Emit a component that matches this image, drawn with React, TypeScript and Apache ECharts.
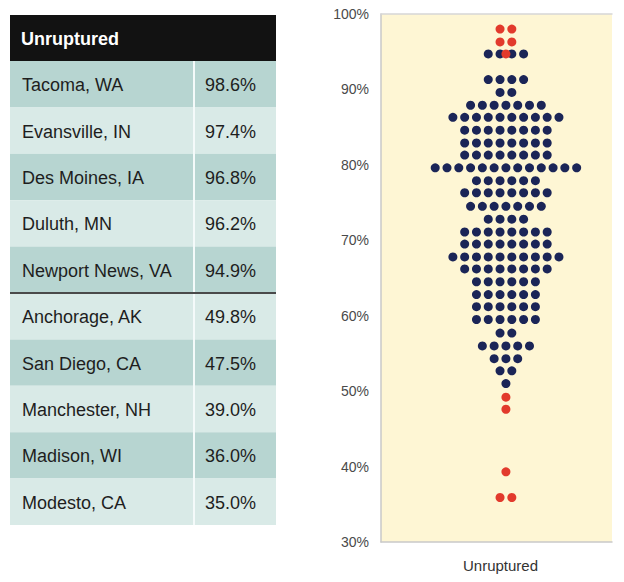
import React, { useEffect, useRef } from "react";
import * as echarts from "echarts";

const cities = [
  "Tacoma, WA",
  "Evansville, IN",
  "Des Moines, IA",
  "Duluth, MN",
  "Newport News, VA",
  "Anchorage, AK",
  "San Diego, CA",
  "Manchester, NH",
  "Madison, WI",
  "Modesto, CA",
];
const cityValues = [98.6, 97.4, 96.8, 96.2, 94.9, 49.8, 47.5, 39.0, 36.0, 35.0];

// rows of the dot plot (bin centres, %) and number of other cities in each row
const binValues = [
  98.0, 96.3, 94.7, 91.3, 89.6, 87.9, 86.3, 84.6, 82.9, 81.3, 79.6, 77.9, 76.3,
  74.5, 72.8, 71.1, 69.5, 67.8, 66.2, 64.5, 62.8, 61.2, 59.5, 57.7, 56.0, 54.3,
  52.7, 51.0, 49.2, 47.6, 39.3, 35.9,
];
const otherCounts = [
  0, 0, 4, 4, 2, 7, 10, 8, 8, 8, 13, 6, 8, 7, 4, 8, 8, 10, 8, 6, 6, 6, 6, 2, 5,
  3, 2, 1, 0, 0, 0, 0,
];

const yTicks = { min: 30, max: 100, interval: 10 };
const categoryName = "Unruptured";
const tableTitle = "Unruptured";

function rowPoints(counts: number[]) {
  const pts: number[][] = [];
  counts.forEach((n, i) => {
    for (let k = 0; k < n; k++) pts.push([k - (n - 1) / 2, binValues[i]]);
  });
  return pts;
}

function nearestBin(v: number) {
  let best = 0;
  binValues.forEach((b, i) => {
    if (Math.abs(b - v) < Math.abs(binValues[best] - v)) best = i;
  });
  return best;
}

export default function App() {
  const ref = useRef<HTMLDivElement>(null);
  useEffect(() => {
    if (!ref.current) return;
    const chart = echarts.init(ref.current, undefined, { renderer: "svg" });

    const redCounts = binValues.map(() => 0);
    cityValues.forEach((v) => (redCounts[nearestBin(v)] += 1));

    // table graphic
    const tX = 10;
    const tW = 266;
    const tTop = 15;
    const headH = 46;
    const rowH = 46.4;
    const colX = 194;
    const font = "18px 'Liberation Sans', Arial, sans-serif";
    const els: any[] = [];
    els.push({
      type: "rect",
      shape: { x: tX, y: tTop, width: tW, height: headH },
      style: { fill: "#121212" },
    });
    els.push({
      type: "text",
      style: {
        text: tableTitle,
        x: 21,
        y: tTop + headH / 2 + 1,
        verticalAlign: "middle",
        font: "bold " + font,
        fill: "#ffffff",
      },
    });
    cities.forEach((c, i) => {
      const y = tTop + headH + i * rowH;
      els.push({
        type: "rect",
        shape: { x: tX, y, width: tW, height: rowH },
        style: { fill: i % 2 === 0 ? "#b7d5d1" : "#d9eae7" },
      });
      els.push({
        type: "text",
        style: {
          text: c,
          x: 22,
          y: y + rowH / 2 + 1,
          verticalAlign: "middle",
          font,
          fill: "#1e1e1e",
        },
      });
      els.push({
        type: "text",
        style: {
          text: cityValues[i].toFixed(1) + "%",
          x: 205,
          y: y + rowH / 2 + 1,
          verticalAlign: "middle",
          font,
          fill: "#1e1e1e",
        },
      });
    });
    els.push({
      type: "line",
      shape: { x1: colX, y1: tTop + headH, x2: colX, y2: tTop + headH + rowH * cities.length },
      style: { stroke: "#f4fafa", lineWidth: 2 },
    });
    els.push({
      type: "line",
      shape: { x1: tX, y1: tTop + headH + rowH * 5, x2: tX + tW, y2: tTop + headH + rowH * 5 },
      style: { stroke: "#4a4a4a", lineWidth: 2 },
    });

    chart.setOption({
      animation: false,
      grid: {
        left: 381,
        right: 12,
        top: 14,
        bottom: 40,
        show: true,
        backgroundColor: "#fef6d4",
        borderWidth: 0,
      },
      xAxis: [
        {
          type: "category",
          data: [categoryName],
          position: "bottom",
          axisTick: { show: false },
          axisLine: { show: true, onZero: false, lineStyle: { color: "#c9c9c9", width: 1.5 } },
          axisLabel: {
            color: "#333",
            fontSize: 15,
            fontFamily: "'Liberation Sans', Arial, sans-serif",
            margin: 16,
            padding: [0, 0, 0, 8],
          },
        },
        {
          type: "value",
          position: "top",
          min: -10.6,
          max: 9.0,
          axisLine: { show: true, onZero: false, lineStyle: { color: "#d6d6d6", width: 1.5 } },
          axisTick: { show: false },
          axisLabel: { show: false },
          splitLine: { show: false },
        },
      ],
      yAxis: {
        type: "value",
        min: yTicks.min,
        max: yTicks.max,
        interval: yTicks.interval,
        axisLine: { show: true, onZero: false, lineStyle: { color: "#c9c9c9", width: 1.5 } },
        axisTick: { show: false },
        splitLine: { show: false },
        axisLabel: {
          formatter: "{value}%",
          color: "#4a4a4a",
          fontSize: 14,
          fontFamily: "'Liberation Sans', Arial, sans-serif",
          margin: 12,
        },
      },
      graphic: els,
      series: [
        {
          type: "scatter",
          xAxisIndex: 1,
          data: rowPoints(otherCounts),
          symbolSize: 9,
          itemStyle: { color: "#1b2557", opacity: 1 },
          silent: true,
        },
        {
          type: "scatter",
          xAxisIndex: 1,
          data: rowPoints(redCounts),
          symbolSize: 9,
          itemStyle: { color: "#e23a2c", opacity: 1 },
          silent: true,
          z: 3,
        },
      ],
    });
    return () => chart.dispose();
  }, []);

  return (
    <div
      ref={ref}
      style={{ position: "fixed", left: 0, top: 0, width: 624, height: 582, background: "#fff" }}
    />
  );
}
